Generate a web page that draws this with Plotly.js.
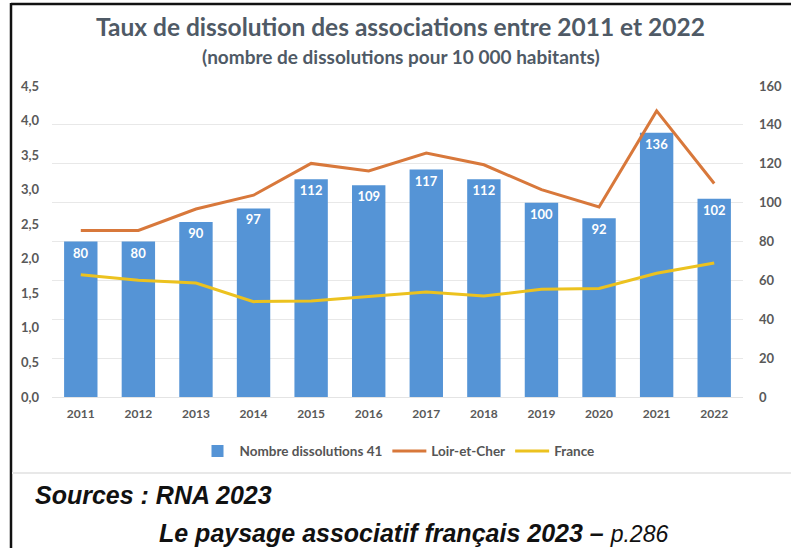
<!DOCTYPE html>
<html>
<head>
<meta charset="utf-8">
<script src="https://cdn.plot.ly/plotly-3.0.1.min.js"></script>
<style>html,body{margin:0;padding:0;background:#fff;}</style>
</head>
<body>
<div id="chart" style="width:791px;height:548px;"></div>
<script>
const years = ['2011','2012','2013','2014','2015','2016','2017','2018','2019','2020','2021','2022'];
const dissolutions41 = [80, 80, 90, 97, 112, 109, 117, 112, 100, 92, 136, 102];
const loirEtCher = [2.41, 2.41, 2.72, 2.92, 3.38, 3.27, 3.53, 3.36, 3.00, 2.75, 4.14, 3.09];
const france = [1.77, 1.69, 1.65, 1.38, 1.39, 1.45, 1.52, 1.46, 1.56, 1.57, 1.79, 1.94];
const leftTicks = [0, 0.5, 1, 1.5, 2, 2.5, 3, 3.5, 4, 4.5];
const rightTicks = [0, 20, 40, 60, 80, 100, 120, 140, 160];

const grey = '#595959';
const tickFont = {family: 'Lato, Carlito, sans-serif', size: 12, color: grey, weight: 700};
const yTickFont = {family: 'Lato, Carlito, sans-serif', size: 13, color: grey, weight: 700};

const traces = [
  {
    type: 'bar', name: 'Nombre dissolutions 41', x: years, y: dissolutions41, yaxis: 'y',
    marker: {color: '#5594d6'},
    text: dissolutions41.map(String), textposition: 'inside', insidetextanchor: 'end',
    textfont: {family: 'Lato, sans-serif', size: 13, color: '#ffffff', weight: 700},
    hoverinfo: 'x+y'
  },
  {
    type: 'scatter', mode: 'lines', name: 'Loir-et-Cher', x: years, y: loirEtCher, yaxis: 'y2',
    line: {color: '#d8783b', width: 3}
  },
  {
    type: 'scatter', mode: 'lines', name: 'France', x: years, y: france, yaxis: 'y2',
    line: {color: '#ecc21f', width: 3}
  }
];

const layout = {
  width: 791, height: 548,
  margin: {l: 52, r: 48, t: 86, b: 151},
  paper_bgcolor: '#ffffff', plot_bgcolor: '#ffffff',
  separators: ', ',
  showlegend: true,
  bargap: 0.42,
  xaxis: {
    type: 'category', showgrid: false, zeroline: false,
    showline: true, linecolor: '#e4e4e4', linewidth: 1,
    tickfont: tickFont, ticks: '', ticklabelstandoff: 6
  },
  yaxis: {
    range: [0, 160], tickvals: rightTicks, side: 'right',
    showgrid: true, gridcolor: '#e8e8e8', gridwidth: 1, zeroline: false,
    showline: false, tickfont: yTickFont, ticks: '', ticklabelstandoff: 15
  },
  yaxis2: {
    range: [0, 4.5], tickvals: leftTicks, tickformat: '.1f', overlaying: 'y', side: 'left',
    showgrid: false, zeroline: false, showline: false,
    tickfont: yTickFont, ticks: '', ticklabelstandoff: 12
  },
  legend: {
    orientation: 'h', x: 0.5, xanchor: 'center', y: -0.174, yanchor: 'middle',
    font: {family: 'Lato, sans-serif', size: 13.5, color: '#555555', weight: 700},
    itemwidth: 34, tracegroupgap: 0, bgcolor: 'rgba(0,0,0,0)'
  },
  annotations: [
    {xref: 'paper', yref: 'paper', x: 0.505, y: (397 - 27) / 311, xanchor: 'center', yanchor: 'middle',
     text: 'Taux de dissolution des associations entre 2011 et 2022', showarrow: false,
     font: {family: 'Lato, sans-serif', size: 24.5, color: '#4f5a66', weight: 700}},
    {xref: 'paper', yref: 'paper', x: 0.505, y: (397 - 56) / 311, xanchor: 'center', yanchor: 'middle',
     text: '(nombre de dissolutions pour 10 000 habitants)', showarrow: false,
     font: {family: 'Lato, sans-serif', size: 19, color: '#4f5a66', weight: 700}},
    {xref: 'paper', yref: 'paper', x: (33 - 52) / 691, y: (397 - 495) / 311, xanchor: 'left', yanchor: 'middle',
     text: '<b><i>Sources : RNA 2023</i></b>', showarrow: false,
     font: {family: 'Liberation Sans, Arial, sans-serif', size: 25, color: '#111111'}},
    {xref: 'paper', yref: 'paper', x: (157 - 52) / 691, y: (397 - 533) / 311, xanchor: 'left', yanchor: 'middle',
     text: '<b><i>Le paysage associatif français 2023 –</i></b> <i><span style="font-size:23px">p.286</span></i>', showarrow: false,
     font: {family: 'Liberation Sans, Arial, sans-serif', size: 25, color: '#111111'}}
  ],
  shapes: [
    {type: 'line', xref: 'paper', yref: 'paper', x0: (11 - 52) / 691, x1: (11 - 52) / 691, y0: (397 - 3) / 311, y1: (397 - 548) / 311,
     line: {color: '#111111', width: 2.5}},
    {type: 'line', xref: 'paper', yref: 'paper', x0: (11 - 52) / 691, x1: (791 - 52) / 691, y0: (397 - 4) / 311, y1: (397 - 4) / 311,
     line: {color: '#111111', width: 2.5}},
    {type: 'line', xref: 'paper', yref: 'paper', x0: (12 - 52) / 691, x1: (791 - 52) / 691, y0: (397 - 473) / 311, y1: (397 - 473) / 311,
     line: {color: '#e8e8e8', width: 2}}
  ]
};

Plotly.newPlot('chart', traces, layout, {displayModeBar: false, staticPlot: true});
</script>
</body>
</html>
